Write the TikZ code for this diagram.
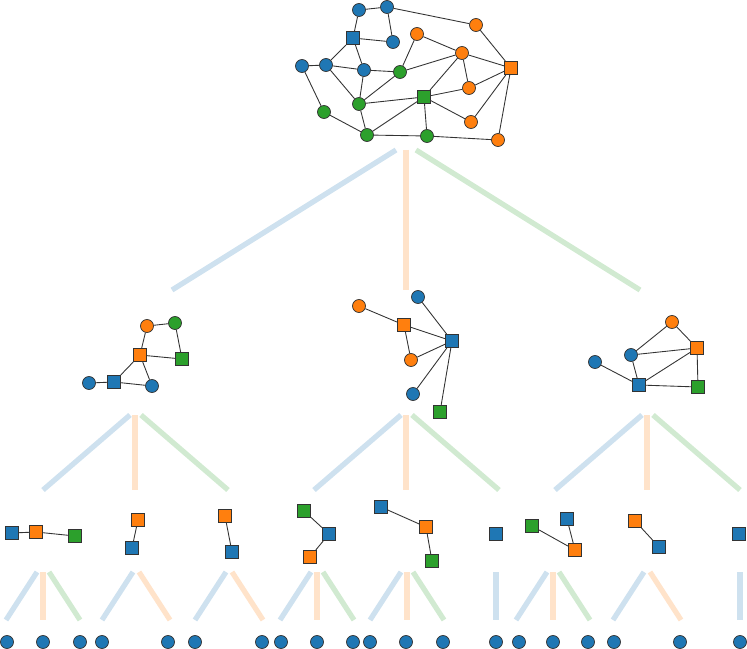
\documentclass[tikz,border=0pt]{standalone}
\usepackage{tikz}
\definecolor{cblue}{HTML}{1F77B4}
\definecolor{corange}{HTML}{FF7F0E}
\definecolor{cgreen}{HTML}{2CA02C}
\definecolor{cedge}{HTML}{333333}

\begin{document}
\begin{tikzpicture}[
    x=0.03cm, y=-0.03cm,
    vtx/.style = {draw=cedge, line width=0.6pt, inner sep=0pt},
    bc/.style = {vtx, circle, fill=cblue, minimum size=0.39cm},
    oc/.style = {vtx, circle, fill=corange, minimum size=0.39cm},
    gc/.style = {vtx, circle, fill=cgreen, minimum size=0.39cm},
    bs/.style = {vtx, rectangle, fill=cblue, minimum size=0.4cm},
    os/.style = {vtx, rectangle, fill=corange, minimum size=0.4cm},
    gs/.style = {vtx, rectangle, fill=cgreen, minimum size=0.4cm},
    link/.style = {draw=cedge, line width=0.75pt},
    band/.style = {line width=4.5pt, draw opacity=0.22}
  ]
    \useasboundingbox (0,0) rectangle (747,649);

    % Bands between levels
    \draw[band, cblue]   (396,150) -- (172,290);
    \draw[band, corange] (406,150) -- (406,290);
    \draw[band, cgreen]  (416,150) -- (640,290);
    \foreach \c in {135,406,647} {
      \draw[band, cblue]   (\c-5,415) -- (\c-92,490);
      \draw[band, corange] (\c,415) -- (\c,490);
      \draw[band, cgreen]  (\c+6,415) -- (\c+93,490);
    }
    \foreach \c in {43,317,407,553} {
      \draw[band, cblue]   (\c-6,572) -- (\c-37,620);
      \draw[band, corange] (\c,572) -- (\c,620);
      \draw[band, cgreen]  (\c+6,572) -- (\c+37,620);
    }
    \foreach \c in {139,232,650} {
      \draw[band, cblue]   (\c-6,572) -- (\c-37,620);
      \draw[band, corange] (\c,572) -- (\c+31,620);
    }
    \foreach \c in {496,740} {
      \draw[band, cblue] (\c,572) -- (\c,620);
    }

    % Top graph
    \node[bc] (tb1) at (359,10) {};
    \node[bc] (tb2) at (387,7) {};
    \node[bc] (tb3) at (393,42) {};
    \node[bc] (tb4) at (302,66) {};
    \node[bc] (tb5) at (326,65) {};
    \node[bc] (tb6) at (364,70) {};
    \node[bs] (tbs) at (353,38) {};
    \node[oc] (to1) at (476,25) {};
    \node[oc] (to2) at (417,34) {};
    \node[oc] (to3) at (462,53) {};
    \node[oc] (to4) at (469,88) {};
    \node[oc] (to5) at (471,122) {};
    \node[oc] (to6) at (498,140) {};
    \node[os] (tos) at (511,68) {};
    \node[gc] (tg1) at (400,72) {};
    \node[gc] (tg2) at (359,104) {};
    \node[gc] (tg3) at (324,112) {};
    \node[gc] (tg4) at (367,135) {};
    \node[gc] (tg5) at (427,136) {};
    \node[gs] (tgs) at (424,97) {};
    \foreach \a/\b in {tb1/tb2, tb1/tbs, tb2/tb3, tb2/to1, tbs/tb3, tbs/tb5, tbs/tb6,
        tb4/tb5, tb5/tb6, tb5/tg2, tb4/tg3, tb6/tg1, tb6/tg2, tg1/to2, tg1/to3,
        tg1/tg2, tgs/tg2, tgs/to3, tgs/to4, tgs/to5, tgs/tg5, tgs/tg4, to3/tos,
        to2/to3, to3/to4, to4/tos, to1/tos, tos/to5, tos/to6, tg5/to6, tg4/tg5,
        tg4/tg3, tg4/tg2}
      \draw[link] (\a) -- (\b);

    % Middle left graph
    \node[oc] (lo) at (147,326) {};
    \node[gc] (lg) at (175,323) {};
    \node[os] (los) at (140,355) {};
    \node[gs] (lgs) at (182,359) {};
    \node[bc] (lb1) at (89,383) {};
    \node[bs] (lbs) at (114,382) {};
    \node[bc] (lb2) at (152,386) {};
    \foreach \a/\b in {lo/lg, lo/los, lg/lgs, los/lgs, los/lbs, los/lb2, lb1/lbs, lbs/lb2}
      \draw[link] (\a) -- (\b);

    % Middle centre graph
    \node[oc] (co1) at (359,306) {};
    \node[bc] (cb1) at (418,297) {};
    \node[os] (cos) at (404,325) {};
    \node[bs] (cbs) at (452,341) {};
    \node[oc] (co2) at (411,360) {};
    \node[bc] (cb2) at (413,394) {};
    \node[gs] (cgs) at (440,412) {};
    \foreach \a/\b in {co1/cos, cos/cbs, cos/co2, cb1/cbs, co2/cbs, cb2/cbs, cgs/cbs}
      \draw[link] (\a) -- (\b);

    % Middle right graph
    \node[oc] (ro) at (672,322) {};
    \node[os] (ros) at (697,348) {};
    \node[bc] (rb1) at (631,355) {};
    \node[bc] (rb2) at (595,362) {};
    \node[bs] (rbs) at (639,385) {};
    \node[gs] (rgs) at (698,387) {};
    \foreach \a/\b in {ro/rb1, ro/ros, rb1/ros, rb1/rbs, rb2/rbs, rbs/ros, rbs/rgs, ros/rgs}
      \draw[link] (\a) -- (\b);

    % Third level
    \node[bs] (ab) at (12,533) {};
    \node[os] (ao) at (36,532) {};
    \node[gs] (ag) at (75,536) {};
    \node[os] (bo) at (138,520) {};
    \node[bs] (bb) at (132,548) {};
    \node[os] (co) at (225,516) {};
    \node[bs] (cb) at (232,552) {};
    \node[gs] (dg) at (304,511) {};
    \node[bs] (db) at (329,534) {};
    \node[os] (do) at (310,557) {};
    \node[bs] (eb) at (381,507) {};
    \node[os] (eo) at (426,527) {};
    \node[gs] (eg) at (432,561) {};
    \node[bs] (fb) at (496,534) {};
    \node[gs] (gg) at (532,526) {};
    \node[bs] (gb) at (567,519) {};
    \node[os] (go) at (575,550) {};
    \node[os] (ho) at (635,521) {};
    \node[bs] (hb) at (659,547) {};
    \node[bs] (ib) at (739,534) {};
    \foreach \a/\b in {ab/ao, ao/ag, bo/bb, co/cb, dg/db, db/do, eb/eo, eo/eg, gg/go, gb/go, ho/hb}
      \draw[link] (\a) -- (\b);

    % Leaves
    \foreach \x [count=\i] in {7,43,80,102,168,195,262,281,317,353,370,406,443,496,519,553,588,614,680,740}
      \node[bc] (leaf\i) at (\x,642) {};

  \end{tikzpicture}
\end{document}
